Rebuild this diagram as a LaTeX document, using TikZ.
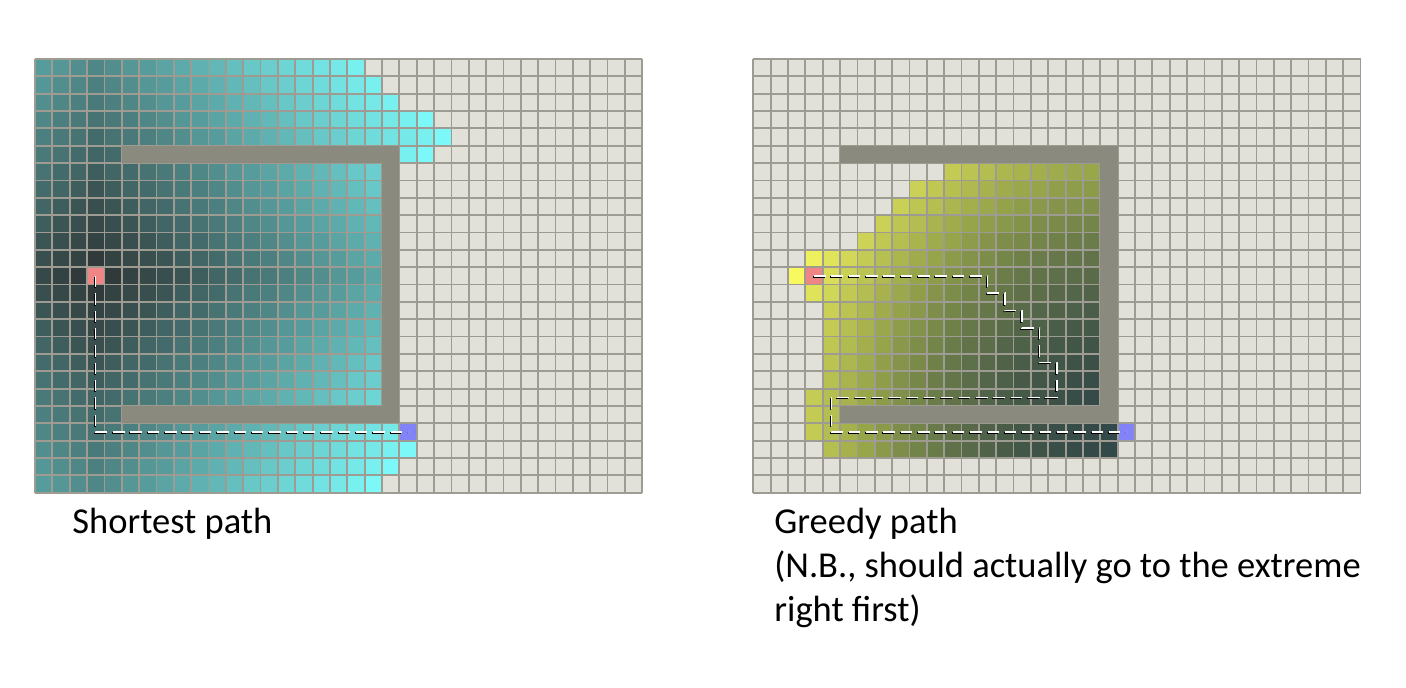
\documentclass[tikz,border=0pt]{standalone}
\usepackage{fontspec}
\setmainfont{Carlito}
\definecolor{cellbg}{HTML}{E1E0D9}
\definecolor{gridc}{HTML}{9E9C92}
\definecolor{wallc}{HTML}{8B8A7E}
\definecolor{cyhi}{HTML}{7CF8F8}
\definecolor{cylo}{HTML}{2E3434}
\definecolor{yhi}{HTML}{F8F860}
\definecolor{ymid}{HTML}{96A44A}
\definecolor{ylo}{HTML}{334848}
\definecolor{startc}{HTML}{F08585}
\definecolor{goalc}{HTML}{8383F8}
\begin{document}
\begin{tikzpicture}[x=0.5pt,y=-0.5pt,
  gl/.style={draw=gridc,line width=0.9pt},
  wall/.style={fill=wallc},
  cellnode/.style={inner sep=0pt,minimum size=8.675pt,draw=none},
  shadepath/.style={line width=0.8pt,black,dash pattern=on 5.75pt off 2.925pt},
  hipath/.style={line width=0.75pt,white,dash pattern=on 5.75pt off 2.925pt},
  lbl/.style={anchor=base west,inner sep=0pt,font=\fontsize{18.25}{22}\selectfont}]
\def\s{17.35}
\useasboundingbox (0,0) rectangle (1406,688);
\fill[white] (0,0) rectangle (1406,688);

% ---------------- left grid: shortest path ----------------
\def\ox{35}\def\oy{59}
\fill[cellbg] (\ox,\oy) rectangle ++(35*\s,25*\s);
\foreach \cc in {0,...,34}{
  \foreach \rr in {0,...,24}{
    \pgfmathtruncatemacro{\dd}{(\cc>=21 && \rr>=5 && \rr<=20) ? min(\cc+\rr+1,\cc+27-\rr) : abs(\cc-3)+abs(\rr-12)}
    \pgfmathtruncatemacro{\isex}{(\cc==22 && \rr==3) || (\cc==23 && \rr==4) || (\cc==22 && \rr==5) || (\cc==21 && \rr==22) || (\cc==20 && \rr==23) || (\cc==19 && \rr==24)}
    \pgfmathtruncatemacro{\vis}{(\dd<=27) || \isex}
    \ifnum\vis=1
      \pgfmathtruncatemacro{\pp}{min(100,100*\dd/28)}
      \fill[fill=cyhi!\pp!cylo] (\ox+\cc*\s,\oy+\rr*\s) rectangle ++(\s,\s);
    \fi
  }
}
\node[cellnode,fill=startc] (sL) at (\ox+3.5*\s,\oy+12.5*\s) {};
\node[cellnode,fill=goalc] (gL) at (\ox+21.5*\s,\oy+21.5*\s) {};
\foreach \i in {0,...,35}{\draw[gl] (\ox+\i*\s,\oy) -- ++(0,25*\s);}
\foreach \j in {0,...,25}{\draw[gl] (\ox,\oy+\j*\s) -- ++(35*\s,0);}
\fill[wall] (\ox+5*\s,\oy+5*\s) rectangle (\ox+21*\s,\oy+6*\s);
\fill[wall] (\ox+5*\s,\oy+20*\s) rectangle (\ox+21*\s,\oy+21*\s);
\fill[wall] (\ox+20*\s,\oy+5*\s) rectangle (\ox+21*\s,\oy+21*\s);
\draw[shadepath] ([shift={(-1,1)}]sL.center) |- ([shift={(-1,1)}]gL.center);
\draw[hipath] (sL.center) |- (gL.center);

% ---------------- right grid: greedy path ----------------
\def\ox{753.3}
\fill[cellbg] (\ox,\oy) rectangle ++(35*\s,25*\s);
\foreach \cc in {0,...,34}{
  \foreach \rr in {6,...,22}{
    \edef\mn{\ifcase\numexpr\rr-6\relax 11\or 9\or 8\or 7\or 6\or 3\or 2\or 3\or 4\or 4\or 4\or 4\or 4\or 3\or 3\or 3\or 4\fi}
    \edef\mx{\ifnum\rr<20 19\else\ifnum\rr=20 4\else 20\fi\fi}
    \ifnum\cc<\mn\relax\else\ifnum\cc>\mx\relax\else
      \pgfmathsetmacro{\ff}{((\cc-21)^2+(\rr-21)^2)/442}
      \pgfmathtruncatemacro{\ishi}{\ff>=0.5}
      \ifnum\ishi=1
        \pgfmathtruncatemacro{\pp}{min(100,200*\ff-100)}
        \fill[fill=yhi!\pp!ymid] (\ox+\cc*\s,\oy+\rr*\s) rectangle ++(\s,\s);
      \else
        \pgfmathtruncatemacro{\pp}{200*\ff}
        \fill[fill=ymid!\pp!ylo] (\ox+\cc*\s,\oy+\rr*\s) rectangle ++(\s,\s);
      \fi
    \fi\fi
  }
}
\node[cellnode,fill=startc] (sR) at (\ox+3.5*\s,\oy+12.5*\s) {};
\node[cellnode,fill=goalc] (gR) at (\ox+21.5*\s,\oy+21.5*\s) {};
\foreach \i in {0,...,35}{\draw[gl] (\ox+\i*\s,\oy) -- ++(0,25*\s);}
\foreach \j in {0,...,25}{\draw[gl] (\ox,\oy+\j*\s) -- ++(35*\s,0);}
\fill[wall] (\ox+5*\s,\oy+5*\s) rectangle (\ox+21*\s,\oy+6*\s);
\fill[wall] (\ox+5*\s,\oy+20*\s) rectangle (\ox+21*\s,\oy+21*\s);
\fill[wall] (\ox+20*\s,\oy+5*\s) rectangle (\ox+21*\s,\oy+21*\s);
\draw[shadepath] ([shift={(-1,1)}]sR.center) -- ++(10*\s,0) -- ++(0,\s) -- ++(\s,0) -- ++(0,\s) -- ++(\s,0) -- ++(0,\s) -- ++(\s,0) -- ++(0,2*\s) -- ++(\s,0) -- ++(0,2*\s) -- ++(-13*\s,0) -- ++(0,2*\s) -- ([shift={(-1,1)}]gR.center);
\draw[hipath] (sR.center) -- ++(10*\s,0) -- ++(0,\s) -- ++(\s,0) -- ++(0,\s) -- ++(\s,0) -- ++(0,\s) -- ++(\s,0) -- ++(0,2*\s) -- ++(\s,0) -- ++(0,2*\s) -- ++(-13*\s,0) -- ++(0,2*\s) -- (gR.center);

% ---------------- labels ----------------
\node[lbl] (t1) at (72,533) {Shortest path};
\node[lbl] (t2) at (774,533) {Greedy path};
\node[lbl] (t3) at (774,577) {(N.B., should actually go to the extreme};
\node[lbl] (t4) at (774,621) {right first)};
\end{tikzpicture}
\end{document}
